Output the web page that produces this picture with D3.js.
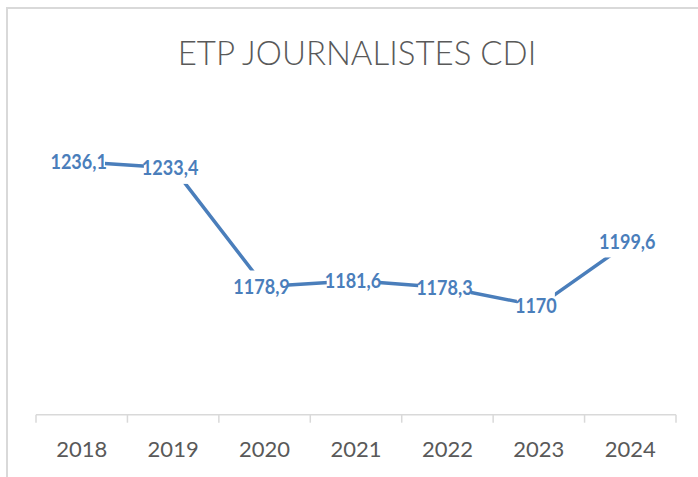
<!DOCTYPE html>
<html>
<head>
<meta charset="utf-8">
<script src="https://cdn.jsdelivr.net/npm/d3@7"></script>
<style>
  html, body { margin: 0; padding: 0; background: #fff; }
  svg { display: block; }
</style>
</head>
<body>
<svg id="chart" width="698" height="477"></svg>
<script>
const title = "ETP JOURNALISTES CDI";
const categories = ["2018", "2019", "2020", "2021", "2022", "2023", "2024"];
const values = [1236.1, 1233.4, 1178.9, 1181.6, 1178.3, 1170, 1199.6];
const valueLabels = ["1236,1", "1233,4", "1178,9", "1181,6", "1178,3", "1170", "1199,6"];
const yDomain = [1120, 1260];

const W = 698, H = 477;
const svg = d3.select("#chart");
const blue = "#4a7ebb";
const font = "Lato, 'Open Sans', sans-serif";

// chart frame
svg.append("rect")
  .attr("x", 7).attr("y", 8)
  .attr("width", W + 20).attr("height", H + 20)
  .attr("fill", "none").attr("stroke", "#d9d9d9").attr("stroke-width", 2);

// title
svg.append("text")
  .attr("x", 357).attr("y", 65)
  .attr("text-anchor", "middle")
  .attr("font-family", font).attr("font-weight", 300)
  .attr("font-size", 33).attr("fill", "#595959")
  .text(title);

const x = d3.scaleBand().domain(categories).range([36, 676]);
const y = d3.scaleLinear().domain(yDomain).range([414.7, 110]);

// x axis
const axisG = svg.append("g").attr("transform", `translate(0,${y(yDomain[0])})`);
axisG.append("line")
  .attr("x1", x.range()[0]).attr("x2", x.range()[1])
  .attr("stroke", "#d9d9d9").attr("stroke-width", 1.5);
const tickPos = categories.map(c => x(c)).concat([x.range()[1]]);
axisG.selectAll("line.tick").data(tickPos).enter().append("line")
  .attr("class", "tick")
  .attr("x1", d => d).attr("x2", d => d)
  .attr("y1", 0).attr("y2", 8)
  .attr("stroke", "#d9d9d9").attr("stroke-width", 1.5);
axisG.selectAll("text").data(categories).enter().append("text")
  .attr("x", d => x(d) + x.bandwidth() / 2)
  .attr("y", 42)
  .attr("text-anchor", "middle")
  .attr("font-family", font).attr("font-size", 22)
  .attr("fill", "#595959")
  .text(d => d);

// line
const pts = categories.map((c, i) => [x(c) + x.bandwidth() / 2, y(values[i])]);
svg.append("path")
  .attr("d", d3.line()(pts))
  .attr("fill", "none").attr("stroke", blue)
  .attr("stroke-width", 3.5).attr("stroke-linejoin", "round");

// data labels with white boxes
const lg = svg.append("g");
pts.forEach((p, i) => {
  const g = lg.append("g");
  const rect = g.append("rect").attr("fill", "#fff");
  const t = g.append("text")
    .attr("x", p[0] - 3).attr("y", p[1])
    .attr("dy", "0.36em")
    .attr("text-anchor", "middle")
    .attr("font-family", font).attr("font-weight", 700)
    .attr("font-size", 20.5).attr("fill", blue)
    .text(valueLabels[i]);
  const nat = t.node().getComputedTextLength();
  t.attr("textLength", nat * 0.88).attr("lengthAdjust", "spacingAndGlyphs");
  const bb = t.node().getBBox();
  rect.attr("x", bb.x + 2).attr("width", bb.width - 4)
    .attr("y", p[1] - 16).attr("height", 32);
});
</script>
</body>
</html>
